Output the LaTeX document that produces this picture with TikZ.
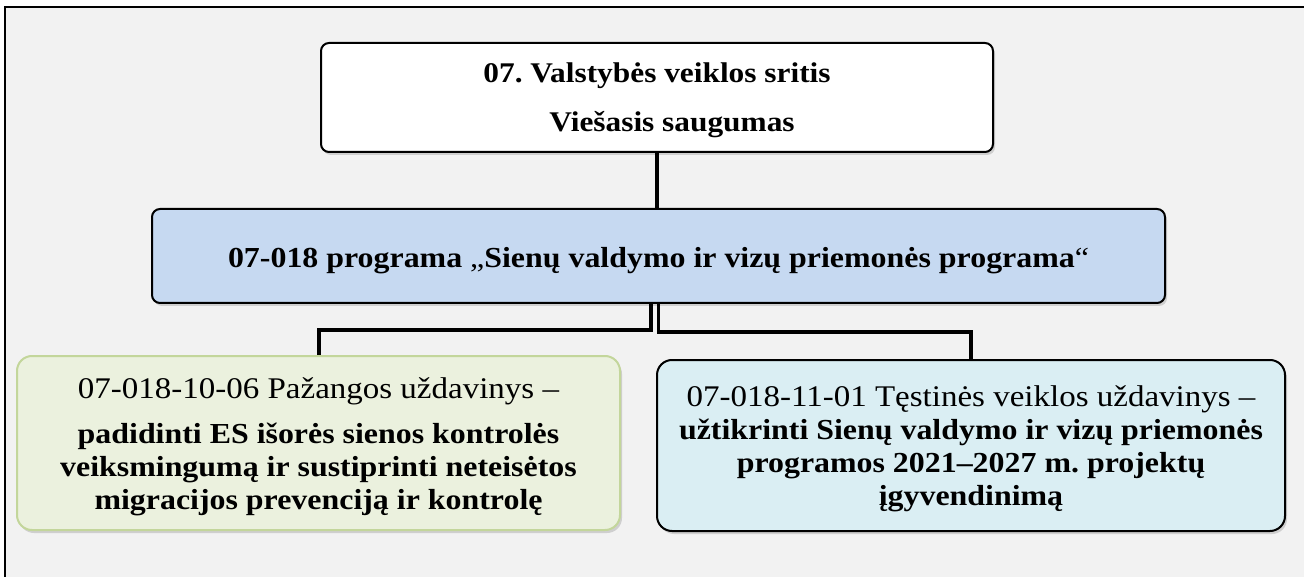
\documentclass[tikz,border=0pt]{standalone}
\usepackage{fontspec}
\setmainfont{Liberation Serif}[FakeStretch=1.1]
\usetikzlibrary{positioning, shadows}
\definecolor{panelgray}{RGB}{242,242,242}
\definecolor{progblue}{RGB}{198,217,241}
\definecolor{goalgreen}{RGB}{235,241,222}
\definecolor{greenline}{RGB}{195,214,155}
\definecolor{goalcyan}{RGB}{218,238,243}
\frenchspacing

\begin{document}
\begin{tikzpicture}[x=1pt, y=-1pt,
    box/.style={rectangle, rounded corners=8pt, draw=black, line width=2pt, align=center, inner sep=0pt,
                drop shadow={shadow xshift=2pt, shadow yshift=-3pt, opacity=0.3}},
    link/.style={line width=4pt}
]
    \useasboundingbox (0,0) rectangle (1304,577);
    \clip (0,0) rectangle (1304,577);
    \draw[fill=panelgray, line width=1.5pt] (5,7) rectangle (1320,600);

    % Row 1
    \node[box, fill=white, minimum width=672pt, minimum height=109pt,
          font=\fontsize{28.5}{49}\selectfont\bfseries] (area) at (657,97.5)
          {\rule{0pt}{26pt}07. Valstybės veiklos sritis\\\hspace*{30pt}Viešasis saugumas};

    % Row 2
    \node[box, fill=progblue, minimum width=1013pt, minimum height=94pt,
          text height=23.4pt, text depth=0pt, font=\fontsize{29}{33}\selectfont] (prog) at (658.5,256)
          {\textbf{07-018 programa} „\textbf{Sienų valdymo ir vizų priemonės programa}“};

    % Row 3
    \node[box, fill=goalgreen, draw=greenline, rounded corners=15pt,
          minimum width=603pt, minimum height=174pt, font=\fontsize{29}{33}\selectfont] (goalA) at (318.5,443)
          {{\fontsize{30}{33}\selectfont\rule{0pt}{28pt}07-018-10-06 Pažangos uždavinys –}\\[12pt]
           \textbf{padidinti ES išorės sienos kontrolės}\\
           \textbf{veiksmingumą ir sustiprinti neteisėtos}\\
           \textbf{migracijos prevenciją ir kontrolę}};
    \node[box, fill=goalcyan, rounded corners=15pt,
          minimum width=628pt, minimum height=171pt, font=\fontsize{29}{33}\selectfont] (goalB) at (971,445.5)
          {{\fontsize{30}{33}\selectfont\rule{0pt}{27pt}07-018-11-01 Tęstinės veiklos uždavinys –}\\
           \textbf{užtikrinti Sienų valdymo ir vizų priemonės}\\
           \textbf{programos 2021–2027 m. projektų}\\
           \textbf{įgyvendinimą}};

    % Connectors
    \draw[link, line width=4.5pt] (area.south) -- (area.south |- prog.north);
    \draw[link] ([xshift=-7.5pt]prog.south) -- ++(0,26.5) -| (goalA.north);
    \draw[link, line width=3.5pt] (prog.south) -- ++(0,28) -| (goalB.north);
\end{tikzpicture}
\end{document}
